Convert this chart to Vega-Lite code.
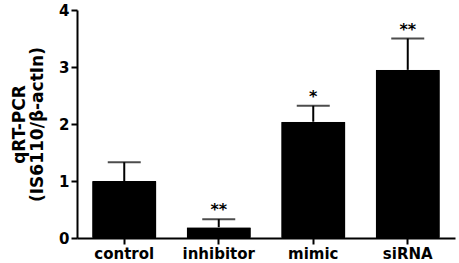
{
  "$schema": "https://vega.github.io/schema/vega-lite/v6.json",
  "autosize": "none",
  "width": 378,
  "height": 228,
  "padding": {"left": 77, "top": 10, "right": 4, "bottom": 25},
  "background": "white",
  "config": {
    "view": {"stroke": null},
    "font": "DejaVu Sans",
    "axis": {
      "domainColor": "black", "domainWidth": 2, "tickColor": "black", "tickWidth": 2,
      "tickSize": 6, "labelColor": "black", "labelFont": "DejaVu Sans", "labelFontWeight": "bold",
      "labelFontSize": 15, "grid": false, "titleColor": "black"
    }
  },
  "data": {"values": [
    {"group": "control", "mean": 1.0, "upper": 1.33, "sig": ""},
    {"group": "inhibitor", "mean": 0.19, "upper": 0.33, "sig": "**"},
    {"group": "mimic", "mean": 2.04, "upper": 2.32, "sig": "*"},
    {"group": "siRNA", "mean": 2.95, "upper": 3.5, "sig": "**"}
  ]},
  "encoding": {
    "x": {"field": "group", "type": "nominal", "sort": null,
      "scale": {"paddingInner": 0.32, "paddingOuter": 0.16},
      "axis": {"title": null, "labelAngle": 0, "labelPadding": 2}}
  },
  "layer": [
    {"mark": {"type": "rule", "color": "black", "strokeWidth": 2},
     "encoding": {"y": {"field": "mean", "type": "quantitative"}, "y2": {"field": "upper"}}},
    {"mark": {"type": "tick", "color": "black", "thickness": 2, "size": 33},
     "encoding": {"y": {"field": "upper", "type": "quantitative"}}},
    {"mark": {"type": "bar", "color": "black", "cornerRadius": 1},
     "encoding": {"y": {"field": "mean", "type": "quantitative",
       "scale": {"domain": [0, 4], "nice": false},
       "axis": {"values": [0, 1, 2, 3, 4], "format": "d", "title": ["qRT-PCR", "(IS6110/β-actIn)"], "titleFontSize": 17, "titleFontWeight": "bold", "titleFont": "DejaVu Sans", "titlePadding": 12, "labelPadding": 2, "titleLineHeight": 18}}}},
    {"mark": {"type": "text", "color": "black", "fontSize": 16, "fontWeight": "bold", "baseline": "bottom", "dy": -1, "font": "DejaVu Sans"},
     "encoding": {"y": {"field": "upper", "type": "quantitative"}, "text": {"field": "sig"}}}
  ]
}
